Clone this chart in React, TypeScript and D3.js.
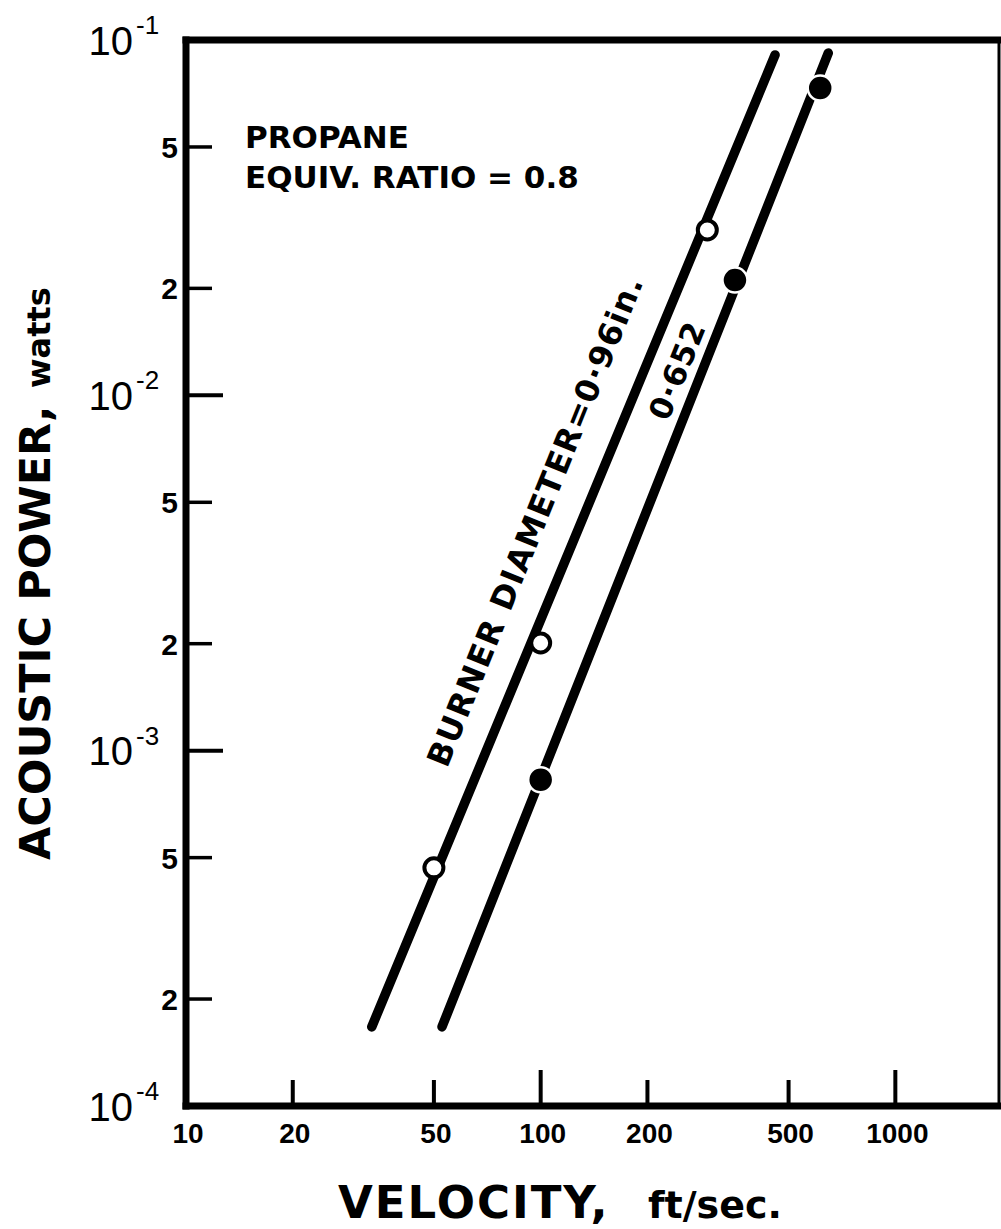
import React from "react";
import * as d3 from "d3";

// ---- data ----
const velocityTicks = [20, 50, 100, 200, 500, 1000];
const velocityMajor = [100, 1000];
const velocityLabels = [10, 20, 50, 100, 200, 500, 1000];

const powerMinorTicks = [5e-2, 2e-2, 5e-3, 2e-3, 5e-4, 2e-4];
const powerMinorLabels = ["5", "2", "5", "2", "5", "2"];
const powerDecades = [1e-1, 1e-2, 1e-3, 1e-4];
const powerDecadeExp = ["-1", "-2", "-3", "-4"];
const powerDecadeTicks = [1e-2, 1e-3];

// fitted lines (endpoints as drawn)
const line096V = [33.4, 458];
const line096P = [1.67e-4, 0.0908];
const line0652V = [52.7, 647];
const line0652P = [1.67e-4, 0.0919];

// measured points
const open096V = [50, 100, 295];
const open096P = [4.68e-4, 2.01e-3, 0.0292];
const filled0652V = [100, 353, 614];
const filled0652P = [8.28e-4, 0.0211, 0.0733];

// annotation anchors (data space)
const label096 = { v: 103, p: 4.3e-3, text: "BURNER DIAMETER=0·96in." };
const label0652 = { v: 258.7, p: 0.01141, text: "0·652" };

export default function App() {
  const W = 1001;
  const H = 1229;
  const x = d3.scaleLog().domain([10, 1960]).range([186, 999]);
  const y = d3.scaleLog().domain([1e-4, 1e-1]).range([1106, 40]);

  const left = x(10);
  const right = x(1960);
  const top = y(1e-1);
  const bottom = y(1e-4);

  const line = d3
    .line<[number, number]>()
    .x((d) => x(d[0]))
    .y((d) => y(d[1]));

  const l1 = line(line096V.map((v, i) => [v, line096P[i]]) as [number, number][]) || "";
  const l2 = line(line0652V.map((v, i) => [v, line0652P[i]]) as [number, number][]) || "";

  const dv = "'DejaVu Sans', sans-serif";
  const lib = "'Liberation Sans', Arial, sans-serif";
  const angle = -68;

  return (
    <svg
      width={W}
      height={H}
      style={{ position: "absolute", left: 0, top: 0, background: "#fff" }}
    >
      <rect x={0} y={0} width={W} height={H} fill="#fff" />

      {/* frame */}
      <line x1={left} y1={top - 3.5} x2={left} y2={bottom + 3.5} stroke="#000" strokeWidth={7} />
      <line x1={left - 3.5} y1={top} x2={W} y2={top} stroke="#000" strokeWidth={7} />
      <line x1={left - 3.5} y1={bottom} x2={W} y2={bottom} stroke="#000" strokeWidth={7} />
      <line x1={right} y1={top} x2={right} y2={bottom} stroke="#000" strokeWidth={3} />

      {/* x ticks */}
      {velocityTicks.map((v) => (
        <line
          key={"xt" + v}
          x1={x(v)}
          x2={x(v)}
          y1={bottom}
          y2={bottom - (velocityMajor.includes(v) ? 36 : 26)}
          stroke="#000"
          strokeWidth={4}
        />
      ))}
      {velocityLabels.map((v) => (
        <text
          key={"xl" + v}
          x={x(v) + 2}
          y={1143}
          textAnchor="middle"
          fontFamily={lib}
          fontWeight="bold"
          fontSize={28}
        >
          {v}
        </text>
      ))}

      {/* y ticks */}
      {powerMinorTicks.map((p, i) => (
        <g key={"ym" + p}>
          <line x1={left} x2={left + 26} y1={y(p)} y2={y(p)} stroke="#000" strokeWidth={3.5} />
          <text
            x={178}
            y={y(p) + 11}
            textAnchor="end"
            fontFamily={lib}
            fontWeight="bold"
            fontSize={30}
          >
            {powerMinorLabels[i]}
          </text>
        </g>
      ))}
      {powerDecadeTicks.map((p) => (
        <line key={"yd" + p} x1={left} x2={left + 37} y1={y(p)} y2={y(p)} stroke="#000" strokeWidth={4} />
      ))}
      {powerDecades.map((p, i) => (
        <g key={"ydl" + p}>
          <text x={133} y={y(p) + 14.5} textAnchor="end" fontFamily={lib} fontSize={40}>
            10
          </text>
          <text x={136} y={y(p) - 6} fontFamily={lib} fontSize={26}>
            {powerDecadeExp[i]}
          </text>
        </g>
      ))}

      {/* lines */}
      <path d={l1} fill="none" stroke="#000" strokeWidth={9.5} strokeLinecap="round" />
      <path d={l2} fill="none" stroke="#000" strokeWidth={9.5} strokeLinecap="round" />

      {/* points */}
      {open096V.map((v, i) => (
        <circle
          key={"o" + v}
          cx={x(v)}
          cy={y(open096P[i])}
          r={9.5}
          fill="#fff"
          stroke="#000"
          strokeWidth={4}
        />
      ))}
      {filled0652V.map((v, i) => (
        <circle
          key={"f" + v}
          cx={x(v)}
          cy={y(filled0652P[i])}
          r={12.5}
          fill="#000"
          stroke="#fff"
          strokeWidth={2.5}
        />
      ))}

      {/* line labels */}
      <text
        transform={`translate(${x(label096.v)},${y(label096.p)}) rotate(${angle})`}
        textAnchor="middle"
        fontFamily={dv}
        fontWeight="bold"
        fontSize={32}
        textLength={525}
        lengthAdjust="spacing"
      >
        {label096.text}
      </text>
      <text
        transform={`translate(${x(label0652.v)},${y(label0652.p)}) rotate(${angle})`}
        textAnchor="middle"
        fontFamily={dv}
        fontWeight="bold"
        fontSize={31}
        textLength={102}
        lengthAdjust="spacing"
      >
        {label0652.text}
      </text>

      {/* condition note */}
      <text x={245} y={148} fontFamily={dv} fontWeight="bold" fontSize={31}>
        PROPANE
      </text>
      <text x={245} y={188} fontFamily={dv} fontWeight="bold" fontSize={31}>
        EQUIV. RATIO = 0.8
      </text>

      {/* axis titles */}
      <text x={338} y={1218} fontFamily={dv} fontWeight="bold" fontSize={45} letterSpacing={2}>
        VELOCITY,
      </text>
      <text x={648} y={1218} fontFamily={dv} fontWeight="bold" fontSize={38}>
        ft/sec.
      </text>
      <text transform="translate(50,860) rotate(-90)" fontFamily={dv} fontWeight="bold" fontSize={43}>
        ACOUSTIC POWER,
      </text>
      <text transform="translate(50,388) rotate(-90)" fontFamily={dv} fontWeight="bold" fontSize={32}>
        watts
      </text>
    </svg>
  );
}
